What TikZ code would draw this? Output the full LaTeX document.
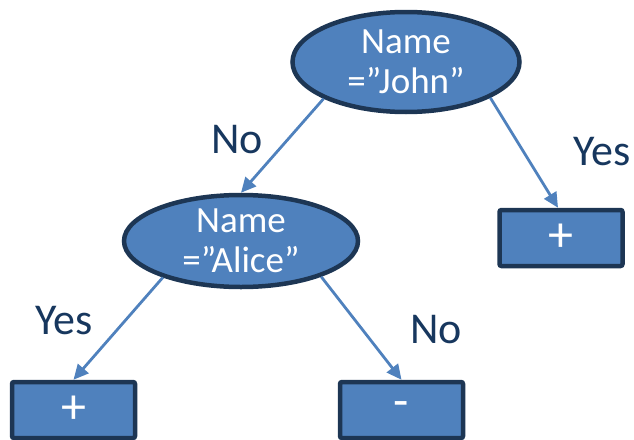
\documentclass[tikz,border=0pt]{standalone}
\usepackage{fontspec}
\setmainfont{Carlito}
\usetikzlibrary{shapes.geometric,arrows.meta}
\definecolor{fillblue}{HTML}{4F81BD}
\definecolor{edgeblue}{HTML}{1D3654}
\definecolor{labelblue}{HTML}{17375E}
\tikzset{
  decision/.style={ellipse, draw=edgeblue, fill=fillblue, line width=4.5pt, text=white,
    font=\fontsize{37}{40}\selectfont, align=center, inner sep=0pt},
  leafbox/.style={rectangle, draw=edgeblue, fill=fillblue, line width=4.5pt, text=white,
    rounded corners=2pt, minimum width=123pt, minimum height=56pt, inner sep=0pt,
    font=\fontsize{50}{54}\selectfont},
  edgelabel/.style={text=labelblue, font=\fontsize{44}{48}\selectfont, inner sep=0pt},
  branch/.style={draw=fillblue, line width=2.8pt, -{Triangle[length=15pt,width=14pt]}}
}
\begin{document}
\begin{tikzpicture}[x=1pt,y=-1pt]
\useasboundingbox (0,0) rectangle (634,439);
\clip (0,0) rectangle (634,439);
\node[decision, minimum width=227pt, minimum height=100pt] (john) at (406,62) {Name\\=”John”};
\node[decision, minimum width=234pt, minimum height=92pt] (alice) at (241,241) {Name\\=”Alice”};
\node[leafbox] (rbox) at (561,238) {+};
\node[leafbox] (lbox) at (73.5,410) {+};
\node[leafbox] (mbox) at (401.5,410) {-};
\node[edgelabel] (no1) at (237,140) {No};
\node[edgelabel] (yes1) at (602,152) {Yes};
\node[edgelabel] (yes2) at (64,321) {Yes};
\node[edgelabel] (no2) at (436,330) {No};
\draw[branch] (john.204) -- (alice.north);
\draw[branch] (john.337) -- ([xshift=-3pt]rbox.north);
\draw[branch] (alice.205) -- (lbox.north);
\draw[branch] (alice.336) -- (mbox.north);
\end{tikzpicture}
\end{document}
